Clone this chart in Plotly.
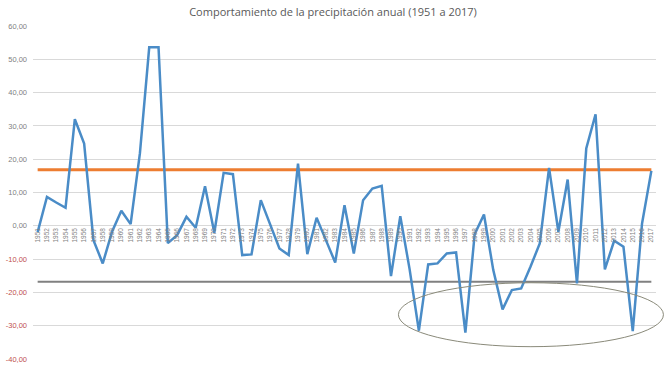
import plotly.graph_objects as go

years = list(range(1951, 2018))
precip = [
    -1.9, 8.7, 7.0, 5.4, 32.0, 24.7, -4.3, -11.3, -1.8, 4.5,
    0.5, 21.8, 53.6, 53.6, -5.2, -2.8, 2.7, -0.6, 11.9, -2.1,
    15.9, 15.5, -8.8, -8.6, 7.7, 0.7, -6.8, -8.8, 18.7, -8.5,
    2.4, -4.3, -11.0, 6.2, -8.3, 7.7, 11.2, 12.0, -15.1, 2.9,
    -13.0, -31.5, -11.6, -11.3, -8.3, -8.0, -32.1, -2.5, 3.4, -13.3,
    -25.1, -19.3, -18.8, -12.3, -5.3, 17.4, -1.8, 13.9, -17.3, 23.2,
    33.5, -13.1, -4.5, -6.3, -31.6, 0.7, 16.5,
]
upper = [16.8] * len(years)
lower = [-16.8] * len(years)
ytick_vals = [60, 50, 40, 30, 20, 10, 0, -10, -20, -30, -40]

def fmt(v):
    s = f"{v:.2f}".replace(".", ",")
    if v < 0:
        return f'<span style="color:#c0504d">{s}</span>'
    return s

ytick_text = [fmt(v) for v in ytick_vals]

W, H = 666, 370
ML, MR, MT, MB = 33, 10, 26, 11
X0, X1 = 1950.5, 2017.5
Y0, Y1 = -40, 60

fig = go.Figure()
fig.add_trace(go.Scatter(x=years, y=upper, mode="lines",
                         line=dict(color="#ED7D31", width=3), hoverinfo="skip"))
fig.add_trace(go.Scatter(x=years, y=lower, mode="lines",
                         line=dict(color="#808080", width=2), hoverinfo="skip"))
fig.add_trace(go.Scatter(x=years, y=precip, mode="lines",
                         line=dict(color="#4A8CC7", width=2.5)))

def px(xv):
    return (xv - X0) / (X1 - X0)

def py(yv):
    return (yv - Y0) / (Y1 - Y0)

# highlight ellipse (annotation)
fig.add_shape(type="circle", xref="paper", yref="paper",
              x0=px(1989.8), x1=px(2018.3), y0=py(-36.3), y1=py(-17.1),
              line=dict(color="#8a8a7a", width=1), layer="above")

fig.update_layout(
    width=W, height=H,
    margin=dict(l=ML, r=MR, t=MT, b=MB, autoexpand=False),
    paper_bgcolor="white", plot_bgcolor="white",
    showlegend=False,
    separators=",.",
    font=dict(family="Liberation Sans, Arial, sans-serif", color="#7f7f7f"),
    title=dict(text="Comportamiento de la precipitación anual (1951 a 2017)",
               x=0.5, xref="container", xanchor="center",
               y=1 - 12 / H, yref="container", yanchor="middle",
               font=dict(size=11, color="#595959", family="Open Sans, Liberation Sans, sans-serif")),
    xaxis=dict(range=[X0, X1], tickmode="array", tickvals=years,
               ticktext=[str(y) for y in years], tickangle=-90,
               tickfont=dict(size=6.5, color="#7f7f7f"), automargin=False,
               showgrid=False, zeroline=False, showline=False,
               ticks="", anchor="free", position=py(0)),
    yaxis=dict(range=[Y0, Y1], tickmode="array", tickvals=ytick_vals,
               ticktext=ytick_text, tickfont=dict(size=7.5, color="#7f7f7f"),
               automargin=False,
               showgrid=True, gridcolor="#d9d9d9", gridwidth=1,
               zeroline=True, zerolinecolor="#d9d9d9", zerolinewidth=1,
               showline=False, ticks="", ticklabelstandoff=5, domain=[0, 1]),
)

fig.write_html("out.html", config={"displayModeBar": False},
               post_script="document.body.style.margin='0';document.body.style.overflow='hidden';")
